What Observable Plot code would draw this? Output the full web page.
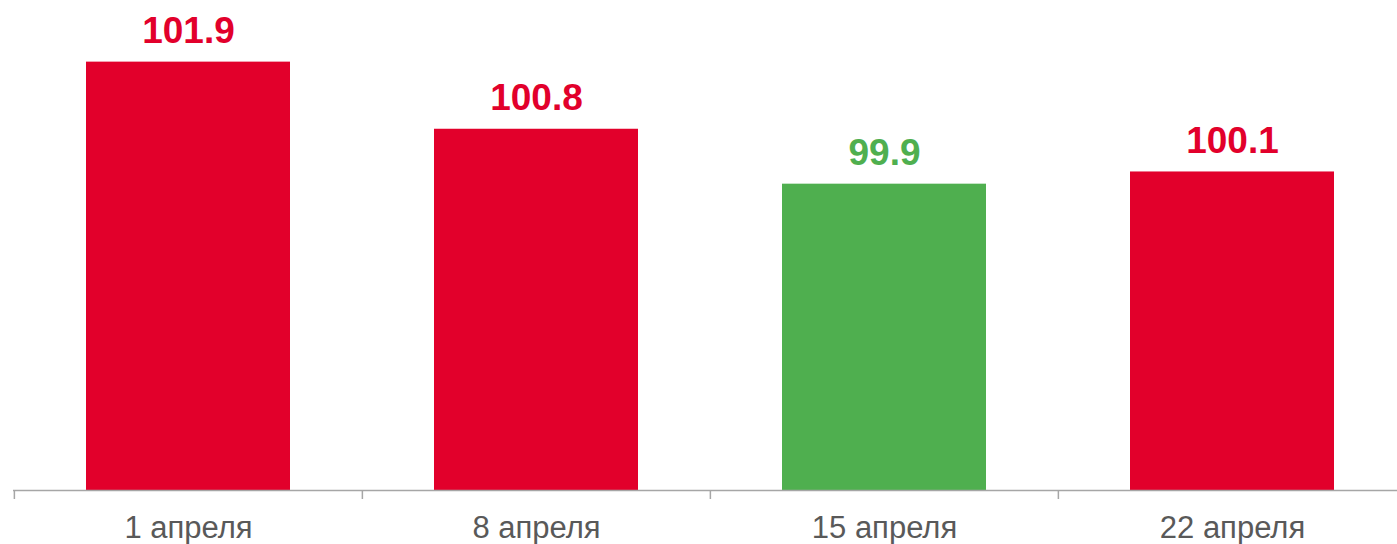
<!DOCTYPE html>
<html>
<head>
<meta charset="utf-8">
<script src="https://cdn.jsdelivr.net/npm/d3@7"></script>
<script src="https://cdn.jsdelivr.net/npm/@observablehq/plot@0.6"></script>
<style>
  html, body { margin: 0; padding: 0; background: #fff; overflow: hidden; }
</style>
</head>
<body>
<div id="chart"></div>
<script>
const categories = ["1 апреля", "8 апреля", "15 апреля", "22 апреля"];
const values = [101.9, 100.8, 99.9, 100.1];
const labels = ["101.9", "100.8", "99.9", "100.1"];
const colors = ["#E2002B", "#E2002B", "#4FAF4F", "#E2002B"];

const data = categories.map((c, i) => ({cat: c, value: values[i], label: labels[i], color: colors[i]}));

const yMin = 94.88, yMax = 102.91;
const W = 1397, H = 544, marginBottom = 54;
const plotH = H - marginBottom;
const pxPerUnit = plotH / (yMax - yMin);
const xRange = [13, 1406];
const step = (xRange[1] - xRange[0]) / categories.length;

const chart = Plot.plot({
  width: W,
  height: H,
  marginTop: 0,
  marginBottom: marginBottom,
  marginLeft: 13,
  marginRight: 0,
  style: {fontFamily: "'Liberation Sans', Arial, sans-serif", background: "#fff"},
  x: {domain: categories, range: xRange, paddingInner: 0.414, paddingOuter: 0.207, label: null},
  y: {domain: [yMin, yMax], axis: null},
  marks: [
    Plot.barY(data, {x: "cat", y1: yMin, y2: "value", fill: "color"}),
    Plot.ruleY([yMin], {stroke: "#a6a6a6", strokeWidth: 1.3}),
    Plot.ruleX(categories, {x: d => d, y1: yMin, y2: yMin - 9 / pxPerUnit, dx: -step / 2, stroke: "#a6a6a6", strokeWidth: 1.5}),
    Plot.axisX({tickSize: 0, tickPadding: 25, fontSize: 31, color: "#595959", label: null}),
    Plot.text(data, {x: "cat", y: "value", text: "label", fill: "color", dy: -19, lineAnchor: "bottom", fontSize: 37, fontWeight: "bold"})
  ]
});
document.getElementById("chart").appendChild(chart);
</script>
</body>
</html>
